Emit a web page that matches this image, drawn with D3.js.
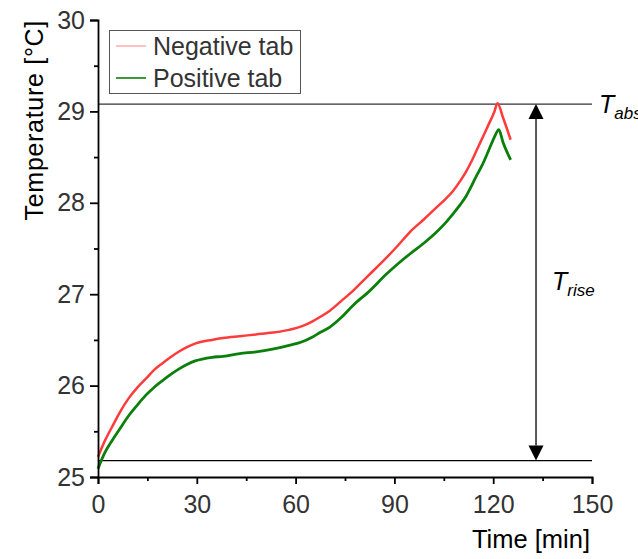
<!DOCTYPE html>
<html>
<head>
<meta charset="utf-8">
<script src="https://cdn.jsdelivr.net/npm/d3@7"></script>
<style>
  html, body { margin: 0; padding: 0; background: #fff; }
  svg { display: block; font-family: "Liberation Sans", Arial, sans-serif; }
</style>
</head>
<body>
<svg id="chart" width="638" height="559"></svg>
<script>
// ---- Data ----
const negTime = [0, 2, 4.3, 6.5, 9.3, 12, 14.4, 17, 19.4, 22, 24.5, 27, 29.5, 34.6, 38, 43, 48, 53, 58, 62, 65, 67.4, 70.4, 74, 77.5, 82, 87.6, 91, 94.7, 99, 102.8, 105.5, 107.8, 110, 111.9, 113.5, 114.9, 117, 118.9, 120.3, 121.3, 123, 125.3];
const negTemp = [25.22, 25.39, 25.55, 25.70, 25.86, 25.98, 26.07, 26.17, 26.24, 26.31, 26.37, 26.42, 26.46, 26.50, 26.52, 26.54, 26.56, 26.58, 26.61, 26.65, 26.70, 26.75, 26.82, 26.93, 27.04, 27.20, 27.40, 27.53, 27.68, 27.82, 27.95, 28.04, 28.13, 28.24, 28.35, 28.46, 28.57, 28.73, 28.88, 28.99, 29.09, 28.93, 28.69];
const posTime = [0, 2, 4.3, 6.5, 9.3, 12, 14.4, 17, 19.4, 22, 24.5, 27, 29.5, 34.6, 38, 43, 48, 53, 58, 62, 65, 67.4, 70.4, 74, 77.5, 82, 87.6, 91, 94.7, 99, 102.8, 105.5, 107.8, 110, 111.9, 113.5, 115, 116.5, 118, 119.4, 120.5, 121.7, 123, 125.3];
const posTemp = [25.09, 25.26, 25.40, 25.52, 25.67, 25.79, 25.89, 25.98, 26.05, 26.12, 26.18, 26.23, 26.27, 26.31, 26.32, 26.35, 26.37, 26.40, 26.44, 26.48, 26.53, 26.58, 26.64, 26.75, 26.88, 27.02, 27.22, 27.33, 27.44, 27.56, 27.68, 27.78, 27.88, 27.98, 28.08, 28.19, 28.30, 28.40, 28.52, 28.64, 28.73, 28.80, 28.66, 28.47];
const seriesNames = ["Negative tab", "Positive tab"];
const xTicks = [0, 30, 60, 90, 120, 150];
const xMinorTicks = [15, 45, 75, 105, 135];
const yTicks = [25, 26, 27, 28, 29, 30];
const yMinorTicks = [25.5, 26.5, 27.5, 28.5, 29.5];
const tAbs = 29.08;      // upper reference line
const tStart = 25.18;    // lower reference line
const arrowTime = 133;   // x position of the T_rise arrow

// ---- Layout ----
const svg = d3.select("#chart");
const x = d3.scaleLinear().domain([0, 150]).range([98, 592]);
const y = d3.scaleLinear().domain([25, 30]).range([477, 20]);
const tickColor = "#333";
const font = 25;

// Reference lines
svg.append("line").attr("x1", x(0)).attr("x2", x(150)).attr("y1", y(tAbs)).attr("y2", y(tAbs))
  .attr("stroke", "#333").attr("stroke-width", 1.3);
svg.append("line").attr("x1", x(0)).attr("x2", x(150)).attr("y1", y(tStart)).attr("y2", y(tStart))
  .attr("stroke", "#000").attr("stroke-width", 1.3);

// Series
const line = d3.line().x(d => x(d[0])).y(d => y(d[1])).curve(d3.curveMonotoneX);
const negData = negTime.map((t, i) => [t, negTemp[i]]);
const posData = posTime.map((t, i) => [t, posTemp[i]]);
svg.append("path").datum(negData).attr("d", line).attr("fill", "none")
  .attr("stroke", "#ff3b3b").attr("stroke-width", 2.5).attr("stroke-linejoin", "round");
svg.append("path").datum(posData).attr("d", line).attr("fill", "none")
  .attr("stroke", "#0a800a").attr("stroke-width", 2.8).attr("stroke-linejoin", "round");

// Axes
const xAxis = svg.append("g").attr("transform", `translate(0,${y(25)})`)
  .call(d3.axisBottom(x).tickValues(xTicks).tickSize(7).tickPadding(11).tickFormat(d3.format("d")));
xAxis.append("g").call(d3.axisBottom(x).tickValues(xMinorTicks).tickSize(4).tickFormat(""))
  .select(".domain").remove();
const yAxis = svg.append("g").attr("transform", `translate(${x(0)},0)`)
  .call(d3.axisLeft(y).tickValues(yTicks).tickSize(8).tickPadding(5).tickFormat(d3.format("d")));
yAxis.append("g").call(d3.axisLeft(y).tickValues(yMinorTicks).tickSize(4).tickFormat(""))
  .select(".domain").remove();
[xAxis, yAxis].forEach(g => {
  g.selectAll(".domain").attr("stroke", "#000").attr("stroke-width", 1.8);
  g.selectAll(".tick line").attr("stroke", "#000").attr("stroke-width", 1.8);
  g.selectAll(".tick text").attr("font-size", font).attr("fill", tickColor)
    .attr("font-family", "'Liberation Sans', Arial, sans-serif");
});

// Axis titles
svg.append("text").attr("x", 590).attr("y", 548).attr("text-anchor", "end")
  .attr("font-size", 25.5).attr("fill", "#000").text("Time [min]");
svg.append("text").attr("transform", "translate(43,20) rotate(-90)").attr("text-anchor", "end")
  .attr("font-size", 25).attr("letter-spacing", 0.7).attr("fill", "#000").text("Temperature [°C]");

// Arrow (double headed)
const ax = x(arrowTime);
const ah = 15, aw = 7.5;
svg.append("line").attr("x1", ax).attr("x2", ax).attr("y1", y(tAbs) + ah).attr("y2", y(tStart) - ah)
  .attr("stroke", "#000").attr("stroke-width", 1.3);
svg.append("path").attr("d", `M${ax},${y(tAbs)} L${ax - aw},${y(tAbs) + ah} L${ax + aw},${y(tAbs) + ah} Z`).attr("fill", "#000");
svg.append("path").attr("d", `M${ax},${y(tStart)} L${ax - aw},${y(tStart) - ah} L${ax + aw},${y(tStart) - ah} Z`).attr("fill", "#000");

// Annotations
const tabs = svg.append("text").attr("x", 599).attr("y", y(tAbs) + 9).attr("font-size", font).attr("font-style", "italic").attr("fill", "#000");
tabs.append("tspan").text("T");
tabs.append("tspan").attr("font-size", 17).attr("dy", 6).text("abs");
const trise = svg.append("text").attr("x", 552).attr("y", 290).attr("font-size", font).attr("font-style", "italic").attr("fill", "#000");
trise.append("tspan").text("T");
trise.append("tspan").attr("font-size", 17).attr("dy", 6).text("rise");

// Legend
const lg = svg.append("g");
lg.append("rect").attr("x", 109.5).attr("y", 30.5).attr("width", 191).attr("height", 63)
  .attr("fill", "#fff").attr("stroke", "#555").attr("stroke-width", 1);
const legendColors = ["#ffb3b3", "#0a800a"];
seriesNames.forEach((name, i) => {
  const ly = 46 + i * 32;
  lg.append("line").attr("x1", 116).attr("x2", 146).attr("y1", ly).attr("y2", ly)
    .attr("stroke", legendColors[i]).attr("stroke-width", 1.6);
  lg.append("text").attr("x", 153).attr("y", ly + 9).attr("font-size", font).attr("fill", tickColor).text(name);
});
</script>
</body>
</html>
